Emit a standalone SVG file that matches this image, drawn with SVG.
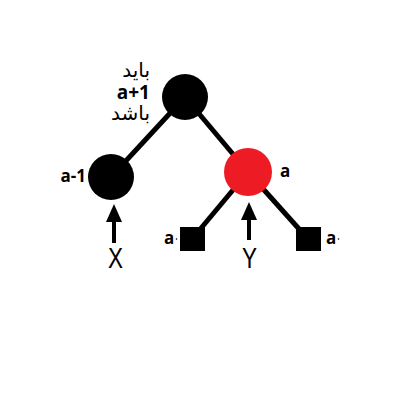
<svg xmlns="http://www.w3.org/2000/svg" width="400" height="400" viewBox="0 0 400 400">
<defs>
<style>
.edge{stroke:#000;stroke-width:5;fill:none}
.arr{stroke:#000;stroke-width:4;fill:none}
.lbl{font-family:"Open Sans","DejaVu Sans",sans-serif;font-weight:bold;fill:#000}
.big{font-family:"Liberation Sans","DejaVu Sans",sans-serif;font-size:29px;fill:#000}
.ar{font-family:"DejaVu Sans",sans-serif;font-size:20px;fill:#000}
</style>
</defs>
<rect width="400" height="400" fill="#fff"/>
<g id="connectors">
<line class="edge" x1="185" y1="97" x2="111" y2="177"/>
<line class="edge" x1="185" y1="97" x2="248" y2="172"/>
<line class="edge" x1="248" y1="172" x2="192" y2="239"/>
<line class="edge" x1="248" y1="172" x2="308" y2="239"/>
<g>
<line class="arr" x1="114" y1="243" x2="114" y2="218"/>
<polygon points="114,204 106,222 122,222" fill="#000"/>
</g>
<g>
<line class="arr" x1="249" y1="240" x2="249" y2="216"/>
<polygon points="249,202 241,220 257,220" fill="#000"/>
</g>
</g>
<g id="root">
<circle cx="185" cy="97" r="23" fill="#000"/>
<text class="ar" x="150" y="77" text-anchor="end">باید</text>
<text class="lbl" x="150" y="99" font-size="19" text-anchor="end">a+1</text>
<text class="ar" x="150" y="120" text-anchor="end">باشد</text>
</g>
<g id="left">
<circle cx="111" cy="177" r="23" fill="#000"/>
<text class="lbl" x="86" y="182" font-size="17" text-anchor="end">a-1</text>
</g>
<g id="red">
<circle cx="248" cy="172" r="24" fill="#ed1c24"/>
<text class="lbl" x="280" y="177" font-size="17">a</text>
</g>
<g id="leafL">
<rect x="180" y="227" width="25" height="24" fill="#000"/>
<text class="lbl" x="164" y="244" font-size="17">a</text>
<circle cx="176.5" cy="239" r="0.8" fill="#000"/>
</g>
<g id="leafR">
<rect x="296" y="227" width="25" height="24" fill="#000"/>
<text class="lbl" x="326" y="244" font-size="17">a</text>
<circle cx="338.5" cy="239" r="0.8" fill="#000"/>
</g>
<g id="X">
<text class="big" x="108" y="268" textLength="15" lengthAdjust="spacingAndGlyphs">X</text>
</g>
<g id="Y">
<text class="big" x="242" y="268" textLength="15" lengthAdjust="spacingAndGlyphs">Y</text>
</g>
</svg>
